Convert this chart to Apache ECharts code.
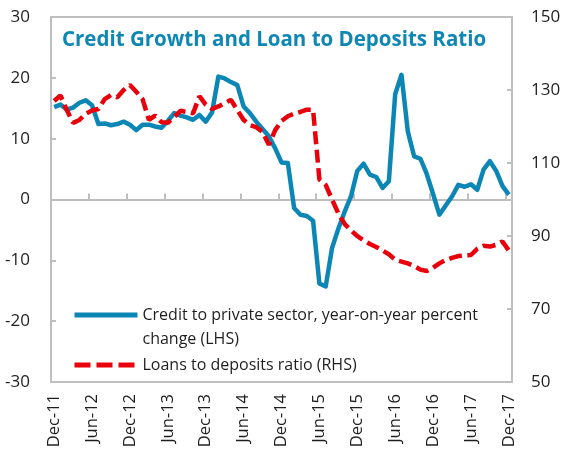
<!DOCTYPE html>
<html><head><meta charset="utf-8">
<script src="https://cdn.jsdelivr.net/npm/echarts@6/dist/echarts.min.js"></script>
<style>html,body{margin:0;padding:0;background:#fff}#c{width:570px;height:457px}</style>
</head><body><div id="c"></div>
<script>
// Categories: monthly, Dec-11 .. Dec-17
const monthAbbr = ['Jan','Feb','Mar','Apr','May','Jun','Jul','Aug','Sep','Oct','Nov','Dec'];
const categories = [];
for (let k = 0; k < 73; k++) {
  const m = (11 + k) % 12;
  const y = 11 + Math.floor((11 + k) / 12);
  categories.push(monthAbbr[m] + '-' + y);
}

const titleText = 'Credit Growth and Loan to Deposits Ratio';
const creditName = 'Credit to private sector, year-on-year percent change (LHS)';
const creditLegendLines = ['Credit to private sector, year-on-year percent', 'change (LHS)'];
const ldrName = 'Loans to deposits ratio (RHS)';

// Credit to private sector, y/y % (LHS)
const credit = [15.2,15.6,14.8,15.1,15.9,16.3,15.5,12.4,12.5,12.2,
  12.4,12.8,12.3,11.4,12.3,12.3,12.0,11.8,12.9,14.2,
  13.8,13.5,13.1,13.9,12.8,14.3,20.2,19.9,19.3,18.8,
  15.3,14.2,12.8,11.6,10.4,8.4,6.1,6.0,-1.4,-2.5,
  -2.7,-3.5,-13.8,-14.3,-8.0,-4.8,-2.0,0.5,4.7,5.9,
  4.1,3.7,1.9,3.0,17.3,20.5,11.2,7.1,6.7,4.2,
  0.9,-2.5,-1.0,0.5,2.4,2.1,2.5,1.6,4.9,6.3,
  4.7,2.2,0.8];

// Loans to deposits ratio (RHS)
const ldr = [127.0,128.5,124.5,121.0,121.8,123.5,124.4,124.8,127.5,128.6,
  128.0,130.0,131.4,129.5,127.5,121.8,123.0,121.2,121.0,122.6,
  124.3,124.0,123.6,128.3,126.0,124.8,125.5,126.4,127.3,124.5,
  121.8,120.4,119.8,118.5,115.0,119.0,121.5,122.8,123.5,124.0,
  124.6,124.6,105.5,104.0,100.0,96.2,93.3,91.5,90.0,88.8,
  87.8,87.0,86.0,85.0,83.5,83.0,82.5,81.8,80.8,80.4,
  81.3,82.5,83.4,84.0,84.5,84.7,84.8,86.5,87.3,87.1,
  87.6,88.5,86.0];

const leftTicks = {min: -30, max: 30, interval: 10};
const rightTicks = {min: 50, max: 150, interval: 20};

const FONT = '"Open Sans", "Noto Sans", sans-serif';
const GRAY = '#bfbfbf';
const TXT = '#1e1e1e';
const BLUE = '#0c86b5';
const RED = '#e8000b';

const chart = echarts.init(document.getElementById('c'), null, {renderer: 'canvas'});
chart.setOption({
  animation: false,
  backgroundColor: '#fff',
  textStyle: {fontFamily: FONT},
  title: {
    text: titleText, left: 62, top: 30, padding: 0,
    textStyle: {fontFamily: FONT, fontSize: 20.5, fontWeight: 'bold', color: '#0e87b4'}
  },
  grid: {left: 51, right: 58, top: 17, bottom: 75, show: true, borderColor: GRAY, borderWidth: 2, backgroundColor: 'transparent'},
  legend: [
    {
      data: [creditName], left: 72, top: 279, padding: 0,
      itemWidth: 63, itemHeight: 10, itemGap: 5,
      itemStyle: {opacity: 0},
      lineStyle: {width: 5},
      formatter: function () { return '\n' + creditLegendLines.join('\n'); },
      textStyle: {fontFamily: FONT, fontSize: 16, color: TXT, lineHeight: 24}
    },
    {
      data: [ldrName], left: 72, top: 353, padding: 0,
      itemWidth: 63, itemHeight: 10,
      itemStyle: {opacity: 0},
      lineStyle: {width: 5, type: [16, 6]},
      textStyle: {fontFamily: FONT, fontSize: 16, color: TXT, lineHeight: 24}
    }
  ],
  xAxis: [
    {
      type: 'category', data: categories, position: 'top', boundaryGap: true,
      axisLine: {show: true, onZero: true, onZeroAxisIndex: 0, lineStyle: {color: GRAY, width: 2}},
      axisTick: {show: true, interval: 5, length: 6, inside: false, lineStyle: {color: GRAY, width: 2}},
      axisLabel: {show: false}, splitLine: {show: false}
    },
    {
      type: 'category', data: categories, position: 'bottom', boundaryGap: true,
      axisLine: {show: false, onZero: false}, axisTick: {show: false},
      axisLabel: {show: true, interval: 5, rotate: 90, margin: 12, fontSize: 16.5, color: TXT, fontFamily: FONT},
      splitLine: {show: false}
    }
  ],
  yAxis: [
    {
      type: 'value', position: 'left', min: leftTicks.min, max: leftTicks.max, interval: leftTicks.interval,
      axisLine: {show: true, lineStyle: {color: GRAY, width: 2}},
      axisTick: {show: true, inside: true, length: 5, lineStyle: {color: GRAY, width: 2}},
      axisLabel: {fontSize: 17, color: TXT, margin: 21, fontFamily: FONT},
      splitLine: {show: false}
    },
    {
      type: 'value', position: 'right', min: rightTicks.min, max: rightTicks.max, interval: rightTicks.interval,
      axisLine: {show: true, lineStyle: {color: GRAY, width: 2}},
      axisTick: {show: true, inside: true, length: 5, lineStyle: {color: GRAY, width: 2}},
      axisLabel: {fontSize: 17, color: TXT, margin: 19, fontFamily: FONT},
      splitLine: {show: false}
    }
  ],
  series: [
    {
      name: creditName, type: 'line', data: credit, xAxisIndex: 0, yAxisIndex: 0,
      symbol: 'none', showSymbol: false, z: 3,
      lineStyle: {color: BLUE, width: 4.5, join: 'round'}, itemStyle: {color: BLUE}
    },
    {
      name: ldrName, type: 'line', data: ldr, xAxisIndex: 0, yAxisIndex: 1,
      symbol: 'none', showSymbol: false, z: 4,
      lineStyle: {color: RED, width: 4.5, type: [13, 5.5], cap: 'butt'}, itemStyle: {color: RED}
    }
  ]
});
</script></body></html>
